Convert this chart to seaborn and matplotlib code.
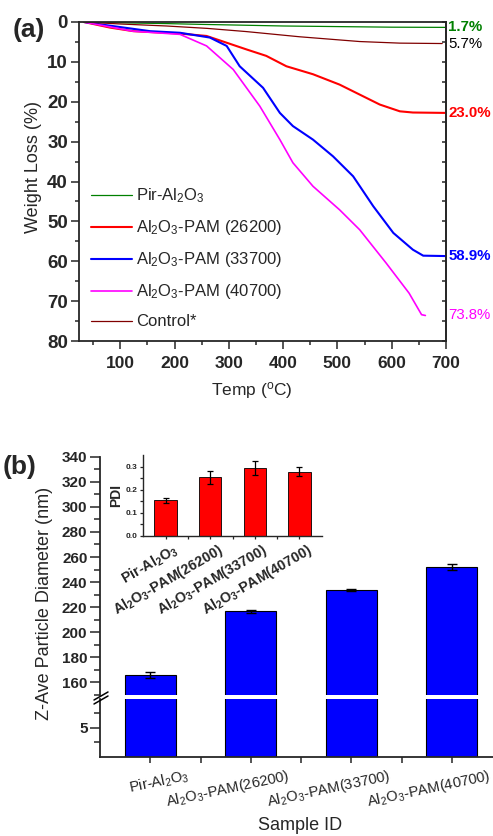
import matplotlib.pyplot as plt
import matplotlib.transforms as mtransforms
from matplotlib.lines import Line2D
from matplotlib.ticker import MultipleLocator
import numpy as np
import pandas as pd
import seaborn as sns

# ---- (a) TGA curves: temperature (C) and weight loss (%) ----
pir_T = [33, 63, 120, 185, 250, 308, 400, 500, 600, 700]
pir_W = [0, 0.1, 0.25, 0.4, 0.6, 0.75, 1.0, 1.15, 1.3, 1.35]

p262_T = [33, 81, 124, 210, 259, 296, 333, 369, 406, 455, 504, 541, 578, 615, 639, 700]
p262_W = [0, 1.4, 2.3, 2.9, 3.5, 5.2, 6.9, 8.5, 11.1, 13.1, 15.7, 18.2, 20.7, 22.4, 22.7, 22.8]

p337_T = [33, 80, 155, 210, 265, 296, 320, 363, 394, 418, 455, 492, 529, 566, 603, 639, 658, 700]
p337_W = [0, 0.9, 2.3, 2.7, 3.9, 6.0, 11.1, 16.5, 22.8, 26.1, 29.5, 33.7, 38.7, 46.2, 52.9, 57.1, 58.6, 58.7]

p407_T = [33, 80, 123, 210, 259, 308, 357, 394, 418, 455, 504, 541, 590, 632, 655, 662]
p407_W = [0, 1.2, 2.3, 3.1, 6.0, 11.9, 21.1, 29.5, 35.3, 41.2, 47.1, 52.1, 60.5, 68.0, 73.4, 73.6]

ctrl_T = [33, 100, 185, 260, 332, 430, 541, 615, 693]
ctrl_W = [0, 0.5, 1.0, 1.6, 2.4, 3.7, 4.9, 5.3, 5.4]

tga_names = ['Pir-Al$_2$O$_3$', 'Al$_2$O$_3$-PAM (26200)', 'Al$_2$O$_3$-PAM (33700)',
             'Al$_2$O$_3$-PAM (40700)', 'Control*']
tga_colors = ['#008000', '#FF0000', '#0000FF', '#FF00FF', '#800000']
tga_widths = [0.9, 1.5, 1.5, 1.2, 0.9]
end_text = ['1.7%', '23.0%', '58.9%', '73.8%', '5.7%']
end_colors = ['#008000', '#FF0000', '#0000FF', '#FF00FF', 'black']
end_weights = ['bold', 'bold', 'bold', 'normal', 'normal']

# ---- (b) particle size and PDI ----
samples = ['Pir-Al$_2$O$_3$', 'Al$_2$O$_3$-PAM(26200)', 'Al$_2$O$_3$-PAM(33700)', 'Al$_2$O$_3$-PAM(40700)']
z_ave = [166, 216.6, 233.9, 252]
z_err = [2.7, 1.3, 1.0, 2.3]
pdi = [0.155, 0.253, 0.292, 0.278]
pdi_err = [0.011, 0.03, 0.03, 0.018]

sns.set_style('ticks')
plt.rcParams['font.family'] = ['Liberation Sans', 'DejaVu Sans']
plt.rcParams['mathtext.default'] = 'regular'
plt.rcParams['axes.linewidth'] = 1.2

fig = plt.figure(figsize=(4.93, 8.36), dpi=100)
W_PX, H_PX = 493, 836


def fx(px):
    return px / W_PX


def fy(py):
    return 1 - py / H_PX


# ================= (a) =================
ax = fig.add_axes([fx(79), fy(341), fx(446) - fx(79), fy(22) - fy(341)])
curves = [(pir_T, pir_W), (p262_T, p262_W), (p337_T, p337_W), (p407_T, p407_W), (ctrl_T, ctrl_W)]
for (T, Wl), name, c, lw in zip(curves, tga_names, tga_colors, tga_widths):
    sns.lineplot(x=T, y=Wl, color=c, lw=lw, label=name, ax=ax, estimator=None)

ax.set_xlim(24, 700)
ax.set_ylim(80, 0)
ax.xaxis.set_major_locator(MultipleLocator(100))
ax.xaxis.set_minor_locator(MultipleLocator(50))
ax.yaxis.set_major_locator(MultipleLocator(10))
ax.yaxis.set_minor_locator(MultipleLocator(5))
ax.tick_params(which='major', direction='out', length=6, width=1.1, pad=2)
ax.tick_params(axis='x', labelsize=12.5, pad=4.5)
ax.tick_params(axis='y', labelsize=13.5)
ax.tick_params(which='minor', direction='out', length=3, width=1.1)
for lbl in ax.get_xticklabels() + ax.get_yticklabels():
    lbl.set_fontweight('bold')
for s in ax.spines.values():
    s.set_visible(True)
    s.set_linewidth(1.3)
sec = ax.secondary_yaxis('right')
sec.set_yticks(np.arange(0, 81, 5))
sec.tick_params(direction='in', length=3, width=1.1, labelright=False)

ax.set_xlabel('Temp ($^{o}$C)', fontsize=12.5)
ax.set_ylabel('Weight Loss (%)', fontsize=13)
ax.xaxis.set_label_coords(0.471, -0.123)
ax.yaxis.set_label_coords(-0.1, 0.545)

final_vals = [pir_W[-1], p262_W[-1], p337_W[-1], p407_W[-1], ctrl_W[-1]]
for v, t, c, w in zip(final_vals, end_text, end_colors, end_weights):
    ax.text(1.006, v, t, color=c, fontsize=10.8, fontweight=w, ha='left', va='center',
            transform=ax.get_yaxis_transform(), clip_on=False)

ax.legend(loc='lower left', bbox_to_anchor=(0.0, 0.0), frameon=False, fontsize=12,
          handlelength=2.45, handletextpad=0.3, labelspacing=0.78, borderaxespad=0.3)

fig.text(fx(13), fy(30), '(a)', fontsize=19, fontweight='bold', ha='left', va='center')

# ================= (b) =================
left_b, right_b = fx(100), fx(502)
ax_hi = fig.add_axes([left_b, fy(695), right_b - left_b, fy(456.7) - fy(695)])
ax_lo = fig.add_axes([left_b, fy(756.7), right_b - left_b, fy(699) - fy(756.7)])

for a in (ax_hi, ax_lo):
    sns.barplot(x=samples, y=z_ave, color='#0000FF', saturation=1, width=0.51,
                edgecolor='black', linewidth=0.8, errorbar=None, ax=a)
    a.set_xlim(-0.5, 3.5)
    a.set_xlabel('')
    a.set_ylabel('')
    for s in a.spines.values():
        s.set_linewidth(1.3)

ax_hi.errorbar(np.arange(len(samples)), z_ave, yerr=z_err, fmt='none', ecolor='black',
               elinewidth=1, capsize=3.5, capthick=1)
ax_hi.set_ylim(150, 340)
ax_hi.yaxis.set_minor_locator(MultipleLocator(10))
ax_hi.set_yticks(np.arange(160, 341, 20))
ax_hi.spines[['top', 'right', 'bottom']].set_visible(False)
ax_hi.tick_params(axis='x', bottom=False, labelbottom=False)
ax_hi.tick_params(axis='y', which='major', direction='out', length=7, width=1.1, labelsize=11, pad=2)
ax_hi.tick_params(axis='y', which='minor', direction='out', length=4, width=1.1)
for lbl in ax_hi.get_yticklabels():
    lbl.set_fontweight('bold')

ax_lo.set_ylim(0, 10)
ax_lo.set_yticks([5])
ax_lo.set_yticks([2.5, 7.5], minor=True)
ax_lo.spines[['top', 'right']].set_visible(False)
ax_lo.tick_params(axis='y', which='major', direction='out', length=7, width=1.1, labelsize=11, pad=2)
ax_lo.tick_params(axis='y', which='minor', direction='out', length=4, width=1.1)
ax_lo.set_xticks([0.5, 1.5, 2.5], minor=True)
ax_lo.tick_params(axis='x', which='both', direction='out', length=4, width=1.1, labelsize=10.6, pad=3.5)
for lbl in ax_lo.get_yticklabels():
    lbl.set_fontweight('bold')
off = mtransforms.ScaledTranslation(37 / 100, 0, fig.dpi_scale_trans)
for lbl in ax_lo.get_xticklabels():
    lbl.set_rotation(12)
    lbl.set_ha('right')
    lbl.set_va('top')
    lbl.set_rotation_mode('anchor')
    lbl.set_transform(lbl.get_transform() + off)

# axis break marks
for dy in (0, 4):
    fig.add_artist(Line2D([fx(94), fx(108)], [fy(700 + dy), fy(692 + dy)],
                          color='black', lw=1.1))

fig.text(fx(45), fy(603), 'Z-Ave Particle Diameter (nm)', rotation=90,
         fontsize=13, ha='center', va='center')
fig.text(fx(300), fy(825), 'Sample ID', fontsize=13, ha='center', va='center')
fig.text(fx(3), fy(467), '(b)', fontsize=19, fontweight='bold', ha='left', va='center')

# inset PDI
ax_in = fig.add_axes([fx(143.3), fy(536), fx(321.7) - fx(143.3), fy(455) - fy(536)])
sns.barplot(x=samples, y=pdi, color='#FF0000', saturation=1, width=0.5,
            edgecolor='black', linewidth=0.6, errorbar=None, ax=ax_in)
ax_in.errorbar(np.arange(len(samples)), pdi, yerr=pdi_err, fmt='none', ecolor='black',
               elinewidth=0.9, capsize=2, capthick=0.9)
ax_in.set_xlim(-0.5, 3.5)
ax_in.set_ylim(0, 0.35)
ax_in.set_yticks([0.0, 0.1, 0.2, 0.3])
ax_in.set_yticklabels(['0.0', '0.1', '0.2', '0.3'])
ax_in.set_yticks([0.05, 0.15, 0.25], minor=True)
ax_in.set_xticks([0.5, 1.5, 2.5], minor=True)
ax_in.spines[['top', 'right']].set_visible(False)
for s in ax_in.spines.values():
    s.set_linewidth(1.0)
ax_in.tick_params(which='both', direction='out', length=2.5, width=0.9, pad=1.5)
ax_in.tick_params(axis='y', labelsize=6)
ax_in.tick_params(axis='x', labelsize=10.3)
ax_in.set_xlabel('')
ax_in.set_ylabel('PDI', fontsize=10, fontweight='bold', labelpad=2)
for lbl in ax_in.get_yticklabels():
    lbl.set_fontweight('bold')
off_in = mtransforms.ScaledTranslation(7 / 100, 0, fig.dpi_scale_trans)
for lbl in ax_in.get_xticklabels():
    lbl.set_fontweight('bold')
    lbl.set_rotation(30)
    lbl.set_ha('right')
    lbl.set_va('top')
    lbl.set_rotation_mode('anchor')
    lbl.set_transform(lbl.get_transform() + off_in)

fig.savefig('out.png', dpi=100)
